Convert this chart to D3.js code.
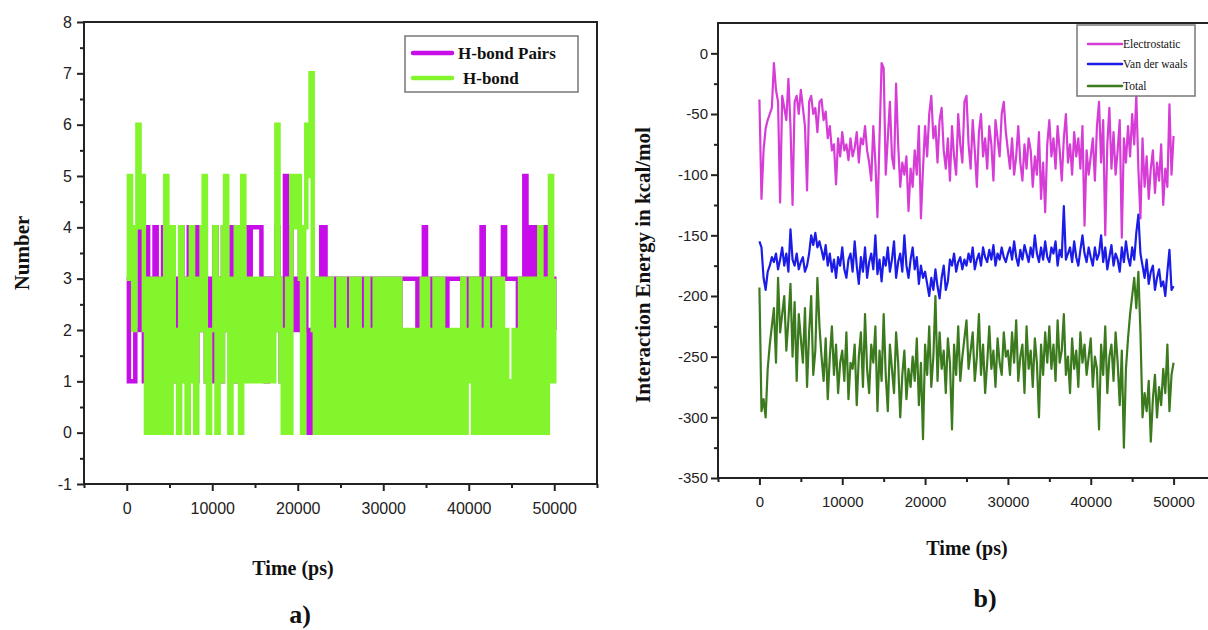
<!DOCTYPE html>
<html>
<head>
<meta charset="utf-8">
<script src="https://cdn.jsdelivr.net/npm/d3@7"></script>
<style>
  html, body { margin: 0; padding: 0; background: #fff; }
  svg { display: block; }
  .axis .domain { display: none; }
  .axis line { stroke: #222; stroke-width: 2; }
  .axis text { font-family: "Liberation Sans", Arial, sans-serif; fill: #222; }
  .label { font-family: "Liberation Serif", "Times New Roman", serif; font-weight: bold; fill: #111; }
</style>
</head>
<body>
<div id="chart"></div>
<script>
'use strict';

// sampling grid of both panels (ps)
var timePs = d3.range(0, 50001, 250);

// panel a)
var hbondPairs = [
    3,1,1,1,2,2,4,3,1,4,2,3,1,4,2,3,1,4,2,3,
    2,4,3,1,2,4,3,2,1,4,3,2,1,4,2,3,4,1,2,3,
    1,4,2,3,1,4,2,3,2,4,1,3,2,4,4,4,4,3,4,4,
    4,4,4,2,3,1,3,2,3,2,4,3,1,2,5,3,4,2,3,2,
    3,4,2,3,2,0,0,2,3,2,3,4,4,3,2,3,2,3,1,2,
    3,2,3,1,3,2,2,3,2,3,2,3,3,2,2,3,2,3,2,3,
    2,3,2,3,2,3,3,2,3,3,3,3,3,3,3,3,2,3,3,4,
    3,2,3,2,3,2,3,2,3,2,3,3,3,3,3,3,3,2,3,2,
    3,2,3,2,3,2,4,3,2,3,2,3,2,3,2,3,4,3,3,3,
    3,3,3,2,3,2,5,3,4,3,4,4,3,4,3,4,3,4,3,3,2
];
var hbond = [
    3,5,4,2,4,6,4,5,2,0,3,0,2,3,0,2,3,0,5,2,
    0,4,1,2,0,4,1,3,0,2,4,1,0,3,2,4,5,1,0,2,
    2,4,0,3,1,4,5,2,0,3,1,4,2,0,5,3,1,2,3,1,
    2,3,1,2,3,1,2,3,1,2,6,3,1,0,2,3,0,5,4,5,
    5,3,0,4,6,5,7,2,0,3,1,0,3,2,0,3,1,0,2,3,
    0,3,1,0,2,3,0,1,3,0,2,0,3,1,0,2,3,0,1,3,
    0,2,3,0,1,3,0,3,0,2,1,0,2,1,0,2,1,0,3,0,
    3,1,0,2,3,0,1,3,0,2,0,2,1,0,2,1,0,3,0,1,
    2,3,0,1,3,0,2,0,3,1,0,2,3,0,1,3,0,2,1,0,
    1,2,0,2,3,0,1,3,0,2,3,0,2,4,0,3,0,2,5,1,3
];

// panel b)
var electrostatic = [
    -38,-120,-80,-62,-55,-50,-45,-8,-30,-40,-123,-35,-45,-55,-21,-60,-125,-40,-35,-50,
    -30,-45,-60,-113,-40,-35,-50,-45,-65,-40,-38,-55,-48,-70,-60,-80,-75,-108,-70,-85,
    -65,-80,-75,-88,-70,-85,-78,-65,-90,-70,-75,-60,-80,-90,-105,-60,-90,-135,-70,-8,
    -12,-100,-70,-40,-85,-95,-25,-75,-110,-90,-100,-85,-130,-95,-110,-80,-100,-60,-136,-95,
    -60,-85,-50,-35,-70,-60,-90,-55,-45,-80,-95,-70,-105,-60,-85,-100,-50,-75,-90,-40,
    -35,-75,-95,-55,-80,-110,-65,-50,-85,-70,-95,-60,-75,-105,-55,-70,-85,-50,-40,-65,
    -80,-95,-70,-100,-85,-60,-90,-105,-75,-95,-70,-80,-110,-85,-100,-65,-120,-90,-131,-75,
    -55,-85,-70,-95,-60,-80,-105,-70,-50,-90,-75,-100,-65,-85,-70,-95,-60,-142,-80,-100,
    -85,-70,-105,-60,-40,-90,-55,-150,-75,-45,-95,-65,-100,-80,-55,-152,-70,-90,-60,-85,
    -50,-75,-35,-95,-136,-70,-110,-85,-120,-95,-80,-115,-90,-105,-75,-125,-95,-110,-42,-100,-68
];
var vanDerWaals = [
    -155,-160,-185,-195,-180,-175,-168,-172,-165,-178,-170,-160,-175,-165,-180,-145,-170,-175,-165,-178,
    -172,-168,-180,-175,-165,-150,-158,-148,-160,-155,-162,-170,-158,-175,-165,-180,-170,-185,-168,-175,
    -160,-178,-185,-170,-165,-180,-155,-175,-190,-168,-180,-160,-185,-172,-165,-178,-150,-182,-170,-188,
    -168,-175,-160,-180,-170,-155,-185,-172,-165,-180,-150,-175,-185,-170,-160,-178,-168,-190,-175,-185,
    -180,-190,-200,-185,-195,-178,-192,-202,-185,-175,-195,-188,-170,-175,-165,-180,-172,-168,-178,-170,
    -175,-165,-172,-160,-178,-170,-165,-175,-160,-168,-172,-162,-170,-158,-175,-165,-170,-160,-168,-172,
    -165,-160,-170,-155,-168,-175,-162,-170,-158,-165,-172,-160,-168,-150,-165,-172,-160,-170,-155,-168,
    -172,-160,-165,-155,-175,-162,-168,-126,-170,-165,-160,-172,-155,-168,-175,-162,-150,-165,-172,-160,
    -168,-175,-160,-170,-165,-150,-172,-160,-178,-168,-158,-175,-165,-170,-180,-160,-172,-155,-168,-175,
    -160,-170,-148,-133,-165,-175,-185,-170,-190,-180,-175,-195,-185,-178,-192,-188,-200,-180,-162,-195,-192
];
var totalEnergy = [
    -193,-295,-285,-300,-260,-240,-225,-210,-255,-185,-230,-215,-200,-245,-220,-190,-250,-205,-270,-215,
    -235,-255,-210,-275,-230,-200,-265,-245,-185,-225,-250,-270,-235,-285,-250,-225,-265,-240,-280,-255,
    -245,-270,-230,-285,-255,-260,-240,-290,-250,-230,-275,-215,-260,-280,-240,-255,-225,-295,-245,-270,
    -215,-265,-295,-240,-260,-280,-230,-255,-300,-265,-245,-285,-260,-275,-250,-270,-235,-290,-255,-318,
    -240,-265,-225,-275,-250,-200,-270,-230,-260,-245,-280,-235,-255,-310,-240,-265,-225,-270,-250,-235,
    -220,-260,-245,-230,-270,-250,-215,-265,-240,-280,-255,-225,-260,-245,-275,-235,-255,-265,-230,-250,
    -245,-265,-230,-255,-220,-270,-250,-240,-280,-225,-260,-245,-275,-235,-255,-300,-240,-265,-230,-255,
    -225,-260,-240,-270,-220,-255,-245,-215,-265,-250,-280,-235,-260,-245,-275,-230,-255,-240,-265,-250,
    -235,-275,-250,-260,-310,-240,-265,-225,-280,-250,-240,-270,-230,-255,-290,-245,-325,-260,-235,-215,
    -200,-185,-210,-180,-230,-300,-280,-295,-270,-320,-285,-265,-300,-275,-290,-260,-280,-240,-295,-265,-255
];

var timeTicks = [0, 10000, 20000, 30000, 40000, 50000],
    timeMinorTicks = [-5000, 5000, 15000, 25000, 35000, 45000, 55000],
    numberTicks = [-1, 0, 1, 2, 3, 4, 5, 6, 7, 8],
    numberMinorTicks = [-0.5, 0.5, 1.5, 2.5, 3.5, 4.5, 5.5, 6.5, 7.5],
    energyTicks = [-350, -300, -250, -200, -150, -100, -50, 0],
    energyMinorTicks = [-325, -275, -225, -175, -125, -75, -25];

// plain hyphen minus, like the original plot
var plainFormat = function (d) { return String(d); };

var svg = d3.select('#chart')
    .append('svg')
    .attr('width', 1208)
    .attr('height', 630);

function drawAxes (g, x, y, o) {
    var x0 = x.range()[0], x1 = x.range()[1],
        y0 = y.range()[0], y1 = y.range()[1];

    g.append('g')
        .attr('class', 'axis')
        .attr('transform', 'translate(0,' + y0 + ')')
        .call(d3.axisBottom(x).tickValues(timeTicks).tickSize(7).tickPadding(o.xPad).tickFormat(plainFormat))
        .selectAll('text').style('font-size', o.fontSize + 'px');
    g.append('g')
        .attr('class', 'axis')
        .attr('transform', 'translate(0,' + y0 + ')')
        .call(d3.axisBottom(x).tickValues(timeMinorTicks).tickSize(4).tickFormat(''));

    g.append('g')
        .attr('class', 'axis')
        .attr('transform', 'translate(' + x0 + ',0)')
        .call(d3.axisLeft(y).tickValues(o.yTicks).tickSize(7).tickPadding(o.yPad).tickFormat(plainFormat))
        .selectAll('text').style('font-size', o.fontSize + 'px');
    g.append('g')
        .attr('class', 'axis')
        .attr('transform', 'translate(' + x0 + ',0)')
        .call(d3.axisLeft(y).tickValues(o.yMinorTicks).tickSize(4).tickFormat(''));

    g.append('rect')
        .attr('x', x0)
        .attr('y', y1)
        .attr('width', x1 - x0)
        .attr('height', y0 - y1)
        .attr('fill', 'none')
        .attr('stroke', '#222')
        .attr('stroke-width', 2);
}

function drawLegend (g, items, o) {
    g.append('rect')
        .attr('x', o.x)
        .attr('y', o.y)
        .attr('width', o.w)
        .attr('height', o.h)
        .attr('fill', '#fff')
        .attr('stroke', '#777')
        .attr('stroke-width', 1.5);

    var row = g.selectAll('g.entry')
        .data(items)
        .enter().append('g')
        .attr('class', 'entry')
        .attr('transform', function (d, i) { return 'translate(0,' + o.rows[i] + ')'; });

    row.append('line')
        .attr('x1', o.lx1)
        .attr('x2', o.lx2)
        .attr('stroke', function (d) { return d.color; })
        .attr('stroke-width', o.lw)
        .attr('stroke-linecap', 'round');

    row.append('text')
        .attr('x', function (d) { return d.tx; })
        .attr('dy', '0.35em')
        .style('font-family', '"Liberation Serif", "Times New Roman", serif')
        .style('font-weight', o.bold ? 'bold' : 'normal')
        .style('font-size', o.fontSize + 'px')
        .attr('fill', '#111')
        .text(function (d) { return d.name; });
}

// ---- panel a) ----
var xA = d3.scaleLinear().domain([-5000, 55000]).range([84, 597]),
    yA = d3.scaleLinear().domain([-1, 8]).range([484, 22]);

var gA = svg.append('g');

var stepLine = d3.line()
    .curve(d3.curveStepAfter)
    .x(function (d) { return xA(d[0]); })
    .y(function (d) { return yA(d[1]); });

gA.append('path')
    .datum(d3.zip(timePs, hbondPairs))
    .attr('d', stepLine)
    .attr('fill', 'none')
    .attr('stroke', '#c80ee8')
    .attr('stroke-width', 4.5);

gA.append('path')
    .datum(d3.zip(timePs, hbond))
    .attr('d', stepLine)
    .attr('fill', 'none')
    .attr('stroke', '#82f52c')
    .attr('stroke-width', 4.5);

drawAxes(gA, xA, yA, {yTicks: numberTicks, yMinorTicks: numberMinorTicks, fontSize: 16, xPad: 12, yPad: 5});

drawLegend(gA, [
    {name: 'H-bond Pairs', color: '#c80ee8', tx: 458},
    {name: 'H-bond', color: '#82f52c', tx: 463}
], {x: 405, y: 36, w: 173, h: 56, rows: [53, 78], lx1: 413, lx2: 452, lw: 4.5, fontSize: 17, bold: true});

gA.append('text')
    .attr('class', 'label')
    .attr('transform', 'translate(22,253) rotate(-90)')
    .attr('text-anchor', 'middle')
    .attr('dy', '0.35em')
    .style('font-size', '21px')
    .text('Number');

gA.append('text')
    .attr('class', 'label')
    .attr('x', 293)
    .attr('y', 568)
    .attr('text-anchor', 'middle')
    .attr('dy', '0.35em')
    .style('font-size', '20px')
    .text('Time (ps)');

gA.append('text')
    .attr('class', 'label')
    .attr('x', 300)
    .attr('y', 614)
    .attr('text-anchor', 'middle')
    .attr('dy', '0.35em')
    .style('font-size', '26px')
    .text('a)');

// ---- panel b) ----
var xB = d3.scaleLinear().domain([-5000, 55000]).range([718, 1215]),
    yB = d3.scaleLinear().domain([-350, 25]).range([478, 23]);

var gB = svg.append('g');

var energyLine = d3.line()
    .x(function (d) { return xB(d[0]); })
    .y(function (d) { return yB(d[1]); });

[
    {values: electrostatic, color: '#d63cd6'},
    {values: vanDerWaals, color: '#1c1ce8'},
    {values: totalEnergy, color: '#3c7a1e'}
].forEach(function (s) {
    gB.append('path')
        .datum(d3.zip(timePs, s.values))
        .attr('d', energyLine)
        .attr('fill', 'none')
        .attr('stroke', s.color)
        .attr('stroke-width', 2.2)
        .attr('stroke-linejoin', 'round');
});

drawAxes(gB, xB, yB, {yTicks: energyTicks, yMinorTicks: energyMinorTicks, fontSize: 15, xPad: 11, yPad: 3});

drawLegend(gB, [
    {name: 'Electrostatic', color: '#d63cd6', tx: 1123},
    {name: 'Van der waals', color: '#1c1ce8', tx: 1123},
    {name: 'Total', color: '#3c7a1e', tx: 1123}
], {x: 1077, y: 25, w: 118, h: 71, rows: [44, 64, 86], lx1: 1088, lx2: 1122, lw: 2.5, fontSize: 11.5, bold: false});

gB.append('text')
    .attr('class', 'label')
    .attr('transform', 'translate(643,265) rotate(-90)')
    .attr('text-anchor', 'middle')
    .attr('dy', '0.35em')
    .style('font-size', '21px')
    .text('Interaction Energy in kcal/mol');

gB.append('text')
    .attr('class', 'label')
    .attr('x', 967)
    .attr('y', 548)
    .attr('text-anchor', 'middle')
    .attr('dy', '0.35em')
    .style('font-size', '20px')
    .text('Time (ps)');

gB.append('text')
    .attr('class', 'label')
    .attr('x', 985)
    .attr('y', 598)
    .attr('text-anchor', 'middle')
    .attr('dy', '0.35em')
    .style('font-size', '26px')
    .text('b)');
</script>
</body>
</html>
